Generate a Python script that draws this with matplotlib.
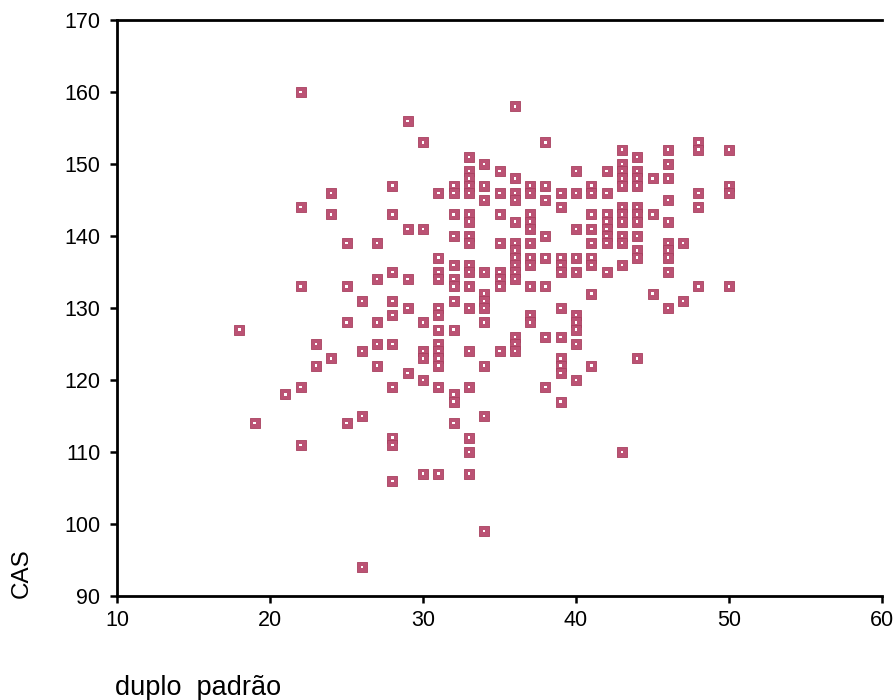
import matplotlib
matplotlib.use("Agg")
import matplotlib.pyplot as plt

plt.rcParams['font.family'] = ['Liberation Sans', 'DejaVu Sans']

# x: "duplo padrão", y: CAS  (one entry per point)
duplo_padrao = (
    [18] + [19] + [21]
    + [22] * 5 + [23] * 2 + [24] * 3 + [25] * 4 + [26] * 4 + [27] * 5
    + [28] * 10 + [29] * 5 + [30] * 7 + [31] * 13 + [32] * 12 + [33] * 18
    + [34] * 11 + [35] * 8 + [36] * 14 + [37] * 11 + [38] * 8 + [39] * 11
    + [40] * 10 + [41] * 9 + [42] * 8 + [43] * 12 + [44] * 11 + [45] * 3
    + [46] * 10 + [47] * 2 + [48] * 5 + [50] * 4
)
cas = (
    [127] + [114] + [118]
    + [160, 144, 133, 119, 111]
    + [125, 122]
    + [146, 143, 123]
    + [139, 133, 128, 114]
    + [131, 124, 115, 94]
    + [139, 134, 128, 125, 122]
    + [147, 143, 135, 131, 129, 125, 119, 112, 111, 106]
    + [156, 141, 134, 130, 121]
    + [153, 141, 128, 124, 123, 120, 107]
    + [146, 137, 135, 134, 130, 129, 127, 125, 124, 123, 122, 119, 107]
    + [147, 146, 143, 140, 136, 134, 133, 131, 127, 118, 117, 114]
    + [151, 149, 148, 147, 146, 143, 142, 140, 139, 136, 135, 133, 130, 124, 119, 112, 110, 107]
    + [150, 147, 145, 135, 132, 131, 130, 128, 122, 115, 99]
    + [149, 146, 143, 139, 135, 134, 133, 124]
    + [158, 148, 146, 145, 142, 139, 138, 137, 136, 135, 134, 126, 125, 124]
    + [147, 146, 143, 142, 141, 139, 137, 136, 133, 129, 128]
    + [153, 147, 145, 140, 137, 133, 126, 119]
    + [146, 144, 137, 136, 135, 130, 126, 123, 122, 121, 117]
    + [149, 146, 141, 137, 135, 129, 128, 127, 125, 120]
    + [147, 146, 143, 141, 139, 137, 136, 132, 122]
    + [149, 146, 143, 142, 141, 140, 139, 135]
    + [152, 150, 149, 148, 147, 144, 143, 142, 140, 139, 136, 110]
    + [151, 149, 148, 147, 144, 143, 142, 140, 138, 137, 123]
    + [148, 143, 132]
    + [152, 150, 148, 145, 142, 139, 138, 137, 135, 130]
    + [139, 131]
    + [153, 152, 146, 144, 133]
    + [152, 147, 146, 133]
)

x_ticks = [10, 20, 30, 40, 50, 60]
y_ticks = [90, 100, 110, 120, 130, 140, 150, 160, 170]

fig = plt.figure(figsize=(8.94, 7.0), dpi=100)
ax = fig.add_axes([117 / 894, 1 - 596 / 700, (882 - 117) / 894, (596 - 20) / 700])

ax.scatter(duplo_padrao, cas, marker='s', s=50, facecolor='#bb5274',
           edgecolor='#a8405f', linewidths=0.6, zorder=3)
ax.scatter(duplo_padrao, cas, marker='s', s=3.5, facecolor='white',
           edgecolor='none', zorder=4)

ax.set_xlim(10, 60)
ax.set_ylim(90, 170)
ax.set_xticks(x_ticks)
ax.set_yticks(y_ticks)
ax.tick_params(axis='both', direction='out', length=5, width=1.8,
               labelsize=15.5, colors='black')
ax.tick_params(axis='y', pad=7)
ax.tick_params(axis='x', pad=5)

for side in ['left', 'bottom', 'top']:
    ax.spines[side].set_linewidth(2.0)
    ax.spines[side].set_color('black')
ax.spines['right'].set_visible(False)

fig.text(22 / 894, 1 - 573 / 700, 'CAS', rotation=90, fontsize=17.5,
         ha='center', va='center')
fig.text(115 / 894, 1 - 688 / 700, 'duplo  padrão', fontsize=19.5,
         ha='left', va='center')

fig.savefig('out.png', dpi=100)
